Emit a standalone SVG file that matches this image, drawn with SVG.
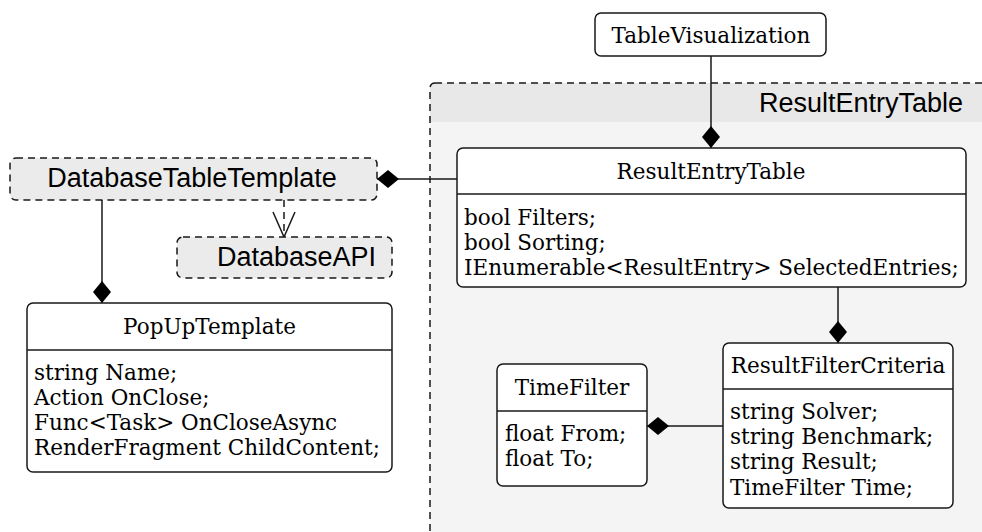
<svg xmlns="http://www.w3.org/2000/svg" width="982" height="532" viewBox="0 0 982 532">
  <defs>
    <style>
      .cls { fill: #ffffff; stroke: #181818; stroke-width: 1.5; }
      .div { stroke: #181818; stroke-width: 1.5; }
      .iface { fill: #ebebeb; stroke: #181818; stroke-width: 1.5; stroke-dasharray: 7 5; }
      .serif { font-family: "DejaVu Serif", serif; font-size: 21.5px; fill: #000000; }
      .sans { font-family: "Liberation Sans", Arial, sans-serif; font-size: 27px; fill: #000000; }
      .mid { text-anchor: middle; }
      .link { fill: none; stroke: #181818; stroke-width: 1.5; }
      .dep { stroke-dasharray: 7 5; }
    </style>
    <!-- filled composition diamond, tip sits on the owning end -->
    <marker id="diamond" markerUnits="userSpaceOnUse" viewBox="0 0 22 18" markerWidth="22" markerHeight="18" refX="22" refY="9" orient="auto">
      <path d="M0,9 L11,0 L22,9 L11,18 Z" fill="#000000" stroke="none"/>
    </marker>
    <!-- open arrowhead for dependencies -->
    <marker id="openArrow" markerUnits="userSpaceOnUse" viewBox="-1 -1 27 24" markerWidth="27" markerHeight="24" refX="25" refY="11" orient="auto">
      <path d="M0,0 L25,11 L0,22" fill="none" stroke="#181818" stroke-width="1.5"/>
    </marker>
  </defs>

  <!-- package container -->
  <g id="pkg-ResultEntryTable">
    <rect x="430" y="83" width="600" height="500" rx="5" fill="#f4f4f4"/>
    <path d="M430,122 V88 Q430,83 435,83 H982 V122 Z" fill="#e8e8e8"/>
    <rect x="430" y="83" width="600" height="500" rx="5" fill="none" stroke="#181818" stroke-width="1.5" stroke-dasharray="7 5"/>
    <text class="sans" x="963" y="112" text-anchor="end">ResultEntryTable</text>
  </g>

  <!-- connectors -->
  <g id="connectors">
    <path class="link" d="M711,56 V148" marker-end="url(#diamond)"/>
    <path class="link" d="M457,179 H377" marker-end="url(#diamond)"/>
    <path class="link" d="M838,287 V343" marker-end="url(#diamond)"/>
    <path class="link" d="M723,426 H647" marker-end="url(#diamond)"/>
    <path class="link" d="M102,200 V303" marker-end="url(#diamond)"/>
    <path class="link dep" d="M284,200 V237" marker-end="url(#openArrow)"/>
  </g>

  <g id="TableVisualization">
    <rect class="cls" x="595" y="13" width="231" height="43" rx="6"/>
    <text class="serif mid" x="711" y="43">TableVisualization</text>
  </g>

  <g id="ResultEntryTable">
    <rect class="cls" x="457" y="148" width="509" height="139" rx="6"/>
    <line class="div" x1="457" y1="194" x2="966" y2="194"/>
    <text class="serif mid" x="711" y="179">ResultEntryTable</text>
    <text class="serif" x="464" y="225">bool Filters;</text>
    <text class="serif" x="464" y="250">bool Sorting;</text>
    <text class="serif" x="464" y="275">IEnumerable&lt;ResultEntry&gt; SelectedEntries;</text>
  </g>

  <g id="ResultFilterCriteria">
    <rect class="cls" x="723" y="343" width="230" height="165" rx="6"/>
    <line class="div" x1="723" y1="389" x2="953" y2="389"/>
    <text class="serif mid" x="838" y="373">ResultFilterCriteria</text>
    <text class="serif" x="730" y="419">string Solver;</text>
    <text class="serif" x="730" y="444">string Benchmark;</text>
    <text class="serif" x="730" y="469">string Result;</text>
    <text class="serif" x="730" y="495">TimeFilter Time;</text>
  </g>

  <g id="TimeFilter">
    <rect class="cls" x="497" y="364" width="150" height="122" rx="6"/>
    <line class="div" x1="497" y1="411" x2="647" y2="411"/>
    <text class="serif mid" x="572" y="395">TimeFilter</text>
    <text class="serif" x="505" y="441">float From;</text>
    <text class="serif" x="505" y="466">float To;</text>
  </g>

  <g id="DatabaseTableTemplate">
    <rect class="iface" x="10" y="158" width="367" height="42" rx="6"/>
    <text class="sans mid" x="192" y="187">DatabaseTableTemplate</text>
  </g>

  <g id="DatabaseAPI">
    <rect class="iface" x="177" y="237" width="215" height="41" rx="6"/>
    <text class="sans" x="217" y="266">DatabaseAPI</text>
  </g>

  <g id="PopUpTemplate">
    <rect class="cls" x="27" y="303" width="365" height="169" rx="6"/>
    <line class="div" x1="27" y1="350" x2="392" y2="350"/>
    <text class="serif mid" x="209.5" y="334">PopUpTemplate</text>
    <text class="serif" x="34" y="380">string Name;</text>
    <text class="serif" x="34" y="405">Action OnClose;</text>
    <text class="serif" x="34" y="430">Func&lt;Task&gt; OnCloseAsync</text>
    <text class="serif" x="34" y="455">RenderFragment ChildContent;</text>
  </g>
</svg>
